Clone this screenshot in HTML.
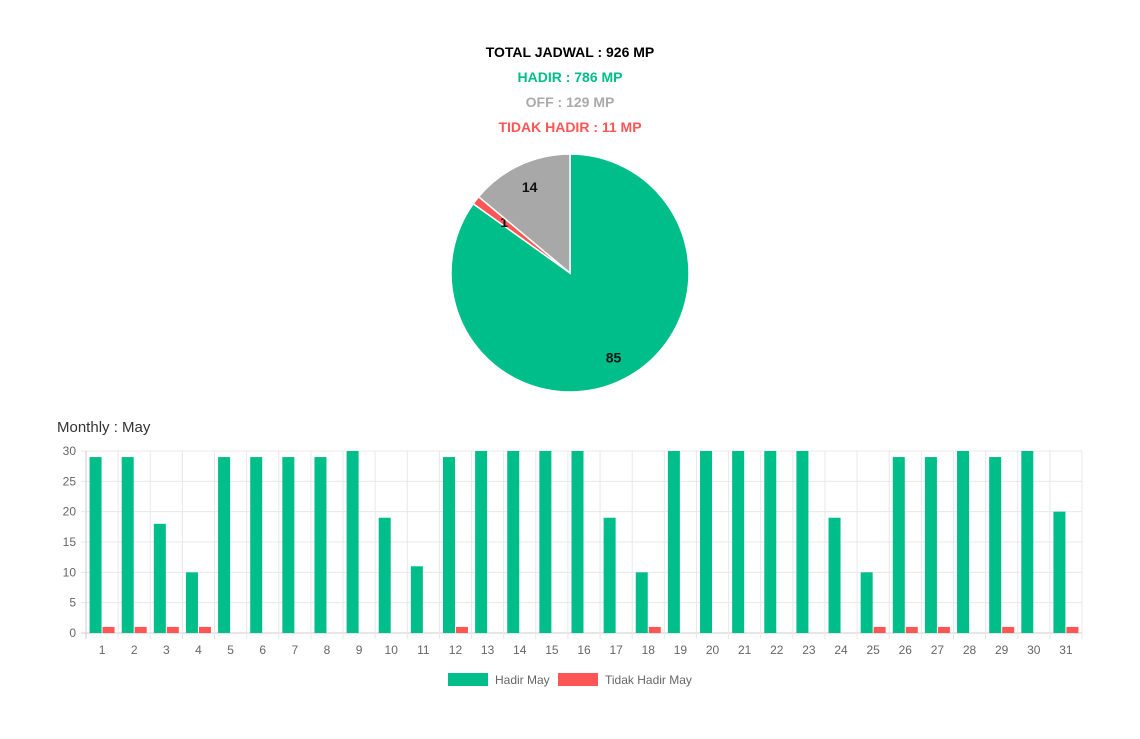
<!DOCTYPE html>
<html><head><meta charset="utf-8"><style>
body{margin:0;background:#fff;width:1140px;height:739px;overflow:hidden;font-family:"Liberation Sans",sans-serif}
.h{position:absolute;left:0;width:1140px;text-align:center;font-weight:bold;font-size:14px}
</style></head><body>
<div class="h" style="top:44px;color:#000">TOTAL JADWAL : 926 MP</div>
<div class="h" style="top:69px;color:#00be8a">HADIR : 786 MP</div>
<div class="h" style="top:94px;color:#aaa">OFF : 129 MP</div>
<div class="h" style="top:119px;color:#ff5555">TIDAK HADIR : 11 MP</div>
<svg id="pie" style="position:absolute;left:0;top:0" width="1140" height="400"></svg>
<div style="position:absolute;left:57px;top:419px;font-size:15px;color:#333">Monthly : May</div>
<svg id="bar" style="position:absolute;left:0;top:0" width="1140" height="739"></svg>
<script>
const pieLabels=["Hadir","Tidak Hadir","Off"];
const pieValues=[786,11,129];
const pieColors=["#00be8a","#ff5555","#a8a8a8"];
const days=[];for(let i=1;i<=31;i++)days.push(String(i));
const hadir=[29,29,18,10,29,29,29,29,30,19,11,29,30,30,30,30,19,10,30,30,30,30,30,19,10,29,29,30,29,30,20];
const tidak=[1,1,1,1,0,0,0,0,0,0,0,1,0,0,0,0,0,1,0,0,0,0,0,0,1,1,1,0,1,0,1];
const yTicks=[0,5,10,15,20,25,30];
const NS="http://www.w3.org/2000/svg";
function mk(p,t,a){const e=document.createElementNS(NS,t);for(const k in a)e.setAttribute(k,a[k]);p.appendChild(e);return e;}
// pie
const pie=document.getElementById('pie');
const cx=570,cy=273,R=119;const tot=pieValues.reduce((a,b)=>a+b,0);
let a0=0;
pieValues.forEach((v,i)=>{
 const a1=a0+v/tot*2*Math.PI;
 const x0=cx+R*Math.sin(a0),y0=cy-R*Math.cos(a0),x1=cx+R*Math.sin(a1),y1=cy-R*Math.cos(a1);
 const p=mk(pie,'path',{d:`M${cx},${cy}L${x0},${y0}A${R},${R} 0 ${a1-a0>Math.PI?1:0} 1 ${x1},${y1}Z`,fill:pieColors[i],stroke:'#fff','stroke-width':1.5});
 
 
 const m=(a0+a1)/2,r=i==1?0.7*R:0.8*R;
 const t=mk(pie,'text',{x:cx+r*Math.sin(m),y:cy-r*Math.cos(m)+5,'text-anchor':'middle','font-size':14,'font-weight':'bold',fill:'#111'});
 t.textContent=Math.round(v/tot*100);
 
 
 a0=a1;
});
// bar
const svg=document.getElementById('bar');
const L=86,Rt=1082,T=451,B=633,ymax=30;
const step=(Rt-L)/days.length;
const y=v=>B-(v/ymax)*(B-T);
const xc=i=>L+step*(i+0.5);
yTicks.forEach(t=>{
 mk(svg,'line',{x1:L-5,x2:Rt,y1:y(t),y2:y(t),stroke:t===0?'#ccc':'#e8e8e8'});
 const tx=mk(svg,'text',{x:L-10,y:y(t)+4,'text-anchor':'end','font-size':12,fill:'#666'});tx.textContent=t;
 
 
});
for(let i=0;i<=days.length;i++)mk(svg,'line',{x1:L+step*i,x2:L+step*i,y1:T,y2:B+6,stroke:i==0?'#ccc':'#e8e8e8'});
const bw=12;
days.forEach((d,i)=>{
 const g=mk(svg,'rect',{x:xc(i)-bw-0.5,y:y(hadir[i]),width:bw,height:B-y(hadir[i]),fill:'#00be8a'});
 
 
 const r=mk(svg,'rect',{x:xc(i)+0.5,y:y(tidak[i]),width:bw,height:B-y(tidak[i]),fill:'#ff5555'});
 
 
 const t=mk(svg,'text',{x:xc(i),y:654,'text-anchor':'middle','font-size':12,fill:'#666'});t.textContent=d;
 
 
});
const lg1=mk(svg,'rect',{x:448,y:673,width:40,height:13,fill:'#00be8a'});


const lt1=mk(svg,'text',{x:495,y:684,'font-size':12,fill:'#666'});lt1.textContent='Hadir May';


const lg2=mk(svg,'rect',{x:558,y:673,width:40,height:13,fill:'#ff5555'});


const lt2=mk(svg,'text',{x:605,y:684,'font-size':12,fill:'#666'});lt2.textContent='Tidak Hadir May';


</script>
</body></html>
